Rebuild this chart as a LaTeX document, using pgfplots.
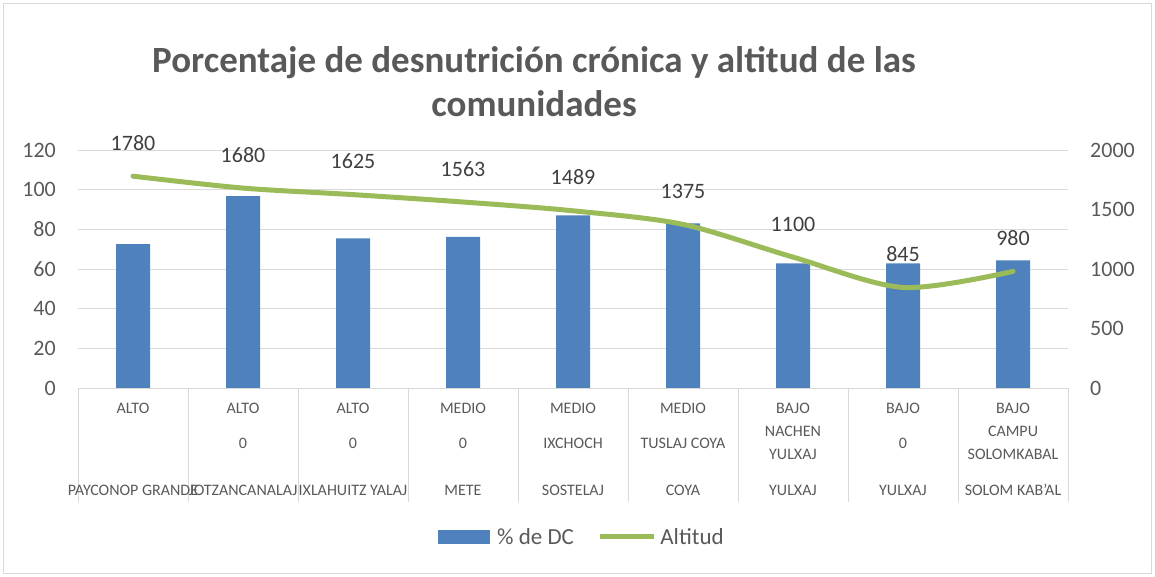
\documentclass[border=0pt]{standalone}
\usepackage{pgfplots}
\pgfplotsset{compat=1.18}
\usepackage{fontspec}
\setmainfont{Carlito}
\definecolor{barblue}{HTML}{4F81BD}
\definecolor{linegreen}{HTML}{9BBB59}
\definecolor{txt}{HTML}{595959}
\definecolor{gridc}{HTML}{D9D9D9}
\definecolor{lbl}{HTML}{404040}
\newcommand{\cat}[4]{%
  \node[text=txt, font=\fontsize{16}{19}\selectfont] at (axis cs:#1,0) [yshift=-20pt] {#2};
  \node[text=txt, font=\fontsize{16}{23}\selectfont, align=center] at (axis cs:#1,0) [yshift=-55pt] {#3};
  \node[text=txt, font=\fontsize{16}{19}\selectfont] at (axis cs:#1,0) [yshift=-102pt] {#4};
}
\begin{document}
\begin{tikzpicture}[x=1pt,y=1pt]
\useasboundingbox (0,0) rectangle (1155,576);
\draw[gridc, line width=1pt] (3,3) rectangle (1151,572);
\node[font=\fontsize{37}{44}\selectfont\bfseries, text=txt, align=center] at (534,494) {Porcentaje de desnutrición crónica y altitud de las\\comunidades};
\begin{axis}[
  at={(78pt,188pt)}, anchor=south west, scale only axis,
  width=990pt, height=238pt,
  xmin=-0.5, xmax=8.5, ymin=0, ymax=120,
  ytick={0,20,...,120}, ymajorgrids,
  grid style={gridc, line width=1pt},
  xtick=\empty, axis line style={draw=none}, ytick style={draw=none},
  ytick pos=left,
  yticklabel style={font=\fontsize{22}{26}\selectfont, text=txt, inner sep=0pt, anchor=east, xshift=-22pt},
  /pgf/number format/assume math mode=true,
  /pgf/number format/1000 sep={},
  clip=false,
  legend style={at={(0.509,-0.626)}, anchor=center, draw=none, fill=none,
    legend columns=2, font=\fontsize{23}{27}\selectfont, text=txt,
    /tikz/every even column/.append style={column sep=22pt}},
  legend cell align=left,
]
\addplot[ybar, bar width=34pt, fill=barblue, draw=none,
  legend image code/.code={\fill[barblue] (0pt,-7pt) rectangle (52pt,7pt); \path[draw=none,fill=none] (0pt,0pt) -- (57pt,0pt);}]
  coordinates {(0,72.6) (1,96.8) (2,75.5) (3,76.2) (4,87.1) (5,83.0) (6,62.8) (7,62.8) (8,64.3)};
\addlegendentry{\% de DC}
\addlegendimage{legend image code/.code={\draw[linegreen, line width=5pt] (0pt,0pt) -- (54pt,0pt); \path[draw=none,fill=none] (0pt,0pt) -- (58pt,0pt);}}
\addlegendentry{Altitud}
\draw[gridc, line width=1pt] (axis cs:-0.5,0) -- (axis cs:8.5,0);
\pgfplotsinvokeforeach{-0.5,0.5,1.5,2.5,3.5,4.5,5.5,6.5,7.5,8.5}{
  \draw[gridc, line width=1pt] (axis cs:#1,0) -- ++(0pt,-114pt);
}
\cat{0}{ALTO}{}{PAYCONOP GRANDE}
\cat{1}{ALTO}{0}{JOTZANCANALAJ}
\cat{2}{ALTO}{0}{IXLAHUITZ YALAJ}
\cat{3}{MEDIO}{0}{METE}
\cat{4}{MEDIO}{IXCHOCH}{SOSTELAJ}
\cat{5}{MEDIO}{TUSLAJ COYA}{COYA}
\cat{6}{BAJO}{NACHEN\\YULXAJ}{YULXAJ}
\cat{7}{BAJO}{0}{YULXAJ}
\cat{8}{BAJO}{CAMPU\\SOLOMKABAL}{SOLOM KAB'AL}
\end{axis}
\begin{axis}[
  at={(78pt,188pt)}, anchor=south west, scale only axis,
  width=990pt, height=238pt,
  xmin=-0.5, xmax=8.5, ymin=0, ymax=2000,
  ytick={0,500,...,2000},
  xtick=\empty, axis line style={draw=none}, ytick style={draw=none},
  ytick pos=right,
  yticklabel style={font=\fontsize{22}{26}\selectfont, text=txt, inner sep=0pt, anchor=west, xshift=22pt},
  /pgf/number format/assume math mode=true,
  /pgf/number format/1000 sep={},
  clip=false,
]
\addplot[linegreen, line width=5pt, smooth, line cap=round,
  nodes near coords,
  nodes near coords style={font=\fontsize{22}{26}\selectfont, text=lbl, anchor=base, yshift=26pt}]
  coordinates {(0,1780) (1,1680) (2,1625) (3,1563) (4,1489) (5,1375) (6,1100) (7,845) (8,980)};
\end{axis}
\end{tikzpicture}
\end{document}
